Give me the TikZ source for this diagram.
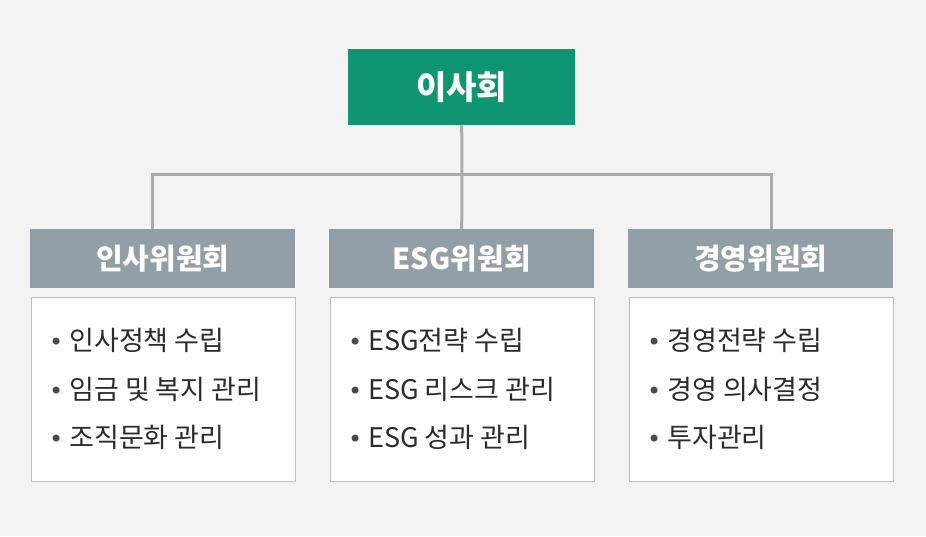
\documentclass[tikz,border=0pt]{standalone}
\usepackage{fontspec}
\setmainfont{Noto Sans CJK KR}
\newfontfamily\dejavu{DejaVu Sans}
\definecolor{bgc}{HTML}{F3F3F3}
\definecolor{greenc}{HTML}{109573}
\definecolor{headc}{HTML}{939FA6}
\definecolor{linec}{HTML}{ABABAB}
\definecolor{boxline}{HTML}{BDBDBD}
\definecolor{txt}{HTML}{2B2B2B}
\tikzset{
  x=1pt,y=1pt,
  topbox/.style={fill=greenc,text=white,font=\fontsize{33}{33}\selectfont\bfseries,minimum width=227pt,minimum height=76pt,inner sep=0,anchor=north west},
  headbox/.style={fill=headc,text=white,font=\fontsize{29}{29}\selectfont\bfseries,minimum width=265pt,minimum height=59pt,inner sep=0,anchor=north west},
  listbox/.style={fill=white,draw=boxline,line width=1.5pt,minimum width=264pt,minimum height=184pt,inner sep=0,anchor=north west},
  item/.style={anchor=west,text=txt,font=\fontsize{27}{27}\selectfont,inner sep=0},
  conn/.style={draw=linec,line width=3pt},
}
\newcommand{\bul}{{\dejavu\fontsize{24}{24}\selectfont\textcolor{txt!85}{•}}\hspace{6pt}}
\begin{document}
\begin{tikzpicture}
\fill[bgc] (0,0) rectangle (926,-536);
\useasboundingbox (0,0) rectangle (926,-536);
\node[topbox] (board) at (348,-49) {이사회};
\node[headbox] (h1) at (30,-229) {인사위원회};
\node[headbox] (h2) at (329,-229) {ESG위원회};
\node[headbox] (h3) at (628,-229) {경영위원회};
\coordinate (j) at (462,-174);
\coordinate (t1) at ([xshift=-10.5pt]h1.north);
\coordinate (t3) at ([xshift=10.5pt]h3.north);
\draw[conn] (board.south) -- (j);
\draw[conn] (t1) |- (j) -| (t3);
\draw[conn] (j) -- (h2.north);
\node[listbox] (b1) at (30.5,-296.5) {};
\node[listbox] (b2) at (329.5,-296.5) {};
\node[listbox] (b3) at (628.5,-296.5) {};
\node[item] (a1) at (49,-340) {\bul 인사정책 수립};
\node[item] (a2) at (49,-389) {\bul 임금 및 복지 관리};
\node[item] (a3) at (49,-437) {\bul 조직문화 관리};
\node[item] (c1) at (348,-340) {\bul ESG전략 수립};
\node[item] (c2) at (348,-389) {\bul ESG 리스크 관리};
\node[item] (c3) at (348,-437) {\bul ESG 성과 관리};
\node[item] (d1) at (647,-340) {\bul 경영전략 수립};
\node[item] (d2) at (647,-389) {\bul 경영 의사결정};
\node[item] (d3) at (647,-437) {\bul 투자관리};
\end{tikzpicture}
\end{document}
